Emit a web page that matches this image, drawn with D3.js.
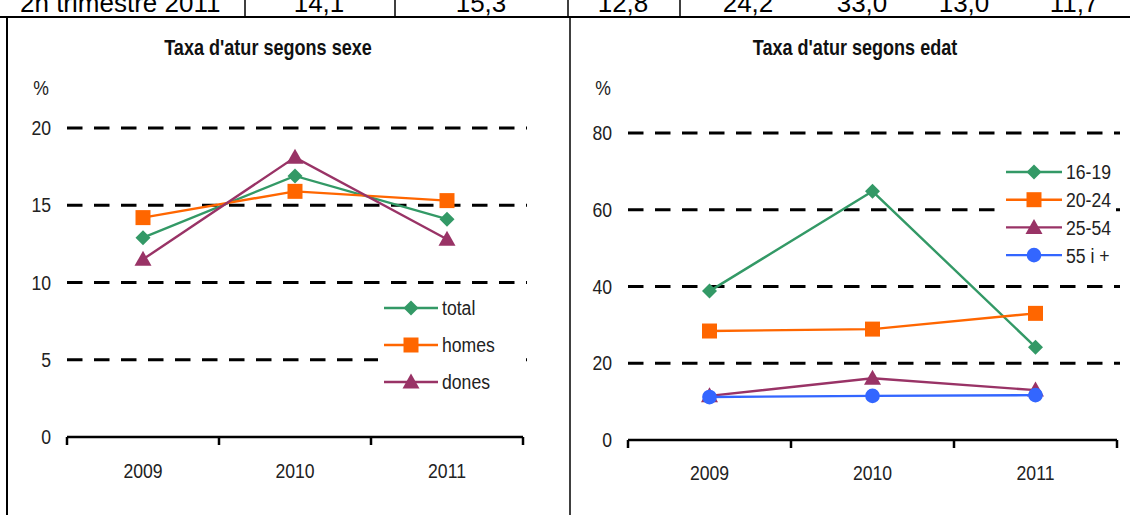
<!DOCTYPE html>
<html><head><meta charset="utf-8">
<script src="https://cdn.jsdelivr.net/npm/d3@7"></script>
<style>
html,body{margin:0;padding:0;background:#fff;}
svg{display:block;font-family:"Liberation Sans",Arial,sans-serif;}
</style></head>
<body><svg id="c" width="1130" height="515"></svg>
<script>
const years = ["2009","2010","2011"];
const sexSeries = ["total","homes","dones"];
const total = [12.9, 16.9, 14.1];
const homes = [14.2, 15.9, 15.3];
const dones = [11.5, 18.1, 12.8];
const ageSeries = ["16-19","20-24","25-54","55 i +"];
const age1619 = [38.8, 64.8, 24.2];
const age2024 = [28.4, 28.9, 33.0];
const age2554 = [11.5, 16.1, 13.0];
const age55 = [11.2, 11.5, 11.7];
const sexTicks = [0,5,10,15,20];
const ageTicks = [0,20,40,60,80];
const rowLabel = "2n trimestre 2011";

const colors = {green:"#339966", orange:"#FF6600", purple:"#993366", blue:"#3366FF"};
const NARROW = 0.84;
const FS = 21;
const svg = d3.select("#c");

// condense text horizontally around its own anchor point
function narrow(sel, s){
  sel.each(function(){
    const t = d3.select(this);
    const x = +(t.attr("x")||0), y = +(t.attr("y")||0);
    t.attr("transform", `translate(${x},${y}) scale(${s||NARROW},1) translate(${-x},${-y})`);
  });
}

// table fragment at top
const fmt = v => v.toFixed(1).replace(".", ",");
const rowVals = [total[2], homes[2], dones[2], age1619[2], age2024[2], age2554[2], age55[2]];
const rowX = [319, 481, 623, 748, 862, 964, 1074];
const tg = svg.append("g");
tg.append("text").attr("x", 20).attr("y", 12).attr("font-size", 26).attr("fill","#000").text(rowLabel);
rowVals.forEach((v,i)=>tg.append("text").attr("x", rowX[i]).attr("y", 12).attr("text-anchor","middle")
  .attr("font-size", 26).attr("fill","#000").text(fmt(v)));
[245, 395, 568, 680].forEach(x=>tg.append("line").attr("x1",x).attr("x2",x).attr("y1",0).attr("y2",17).attr("stroke","#000").attr("stroke-width",1.5));
tg.append("line").attr("x1",0).attr("x2",1130).attr("y1",17).attr("y2",17).attr("stroke","#000").attr("stroke-width",2);
tg.append("line").attr("x1",7).attr("x2",7).attr("y1",17).attr("y2",515).attr("stroke","#000").attr("stroke-width",2);
tg.append("line").attr("x1",570).attr("x2",570).attr("y1",17).attr("y2",515).attr("stroke","#000").attr("stroke-width",1.5);

const shapes = {
  diamond: "M0,-7.5L7.5,0L0,7.5L-7.5,0Z",
  square: "M-7.5,-7.5H7.5V7.5H-7.5Z",
  triangle: "M0,-8.5L8.5,6.5H-8.5Z",
  circle: d3.symbol().type(d3.symbolCircle).size(170)()
};

function chart(cfg){
  const g = svg.append("g");
  const x = d3.scaleBand().domain(years).range([cfg.x0, cfg.x1]).padding(0);
  const y = d3.scaleLinear().domain(cfg.domain).range([cfg.yb, cfg.yt]);
  g.append("text").attr("x", cfg.titleX).attr("y", 55).attr("text-anchor","middle")
    .attr("font-weight","bold").attr("font-size", 21.5).attr("fill","#111").text(cfg.title).call(narrow);
  g.append("text").attr("x", cfg.pctX).attr("y", 95).attr("text-anchor","middle").attr("font-size", FS).attr("fill","#222").text("%").call(narrow);
  // gridlines
  g.selectAll("line.grid").data(cfg.ticks.filter(t=>t>0)).enter().append("line")
    .attr("x1", cfg.x0).attr("x2", cfg.gridEnd).attr("y1", d=>y(d)).attr("y2", d=>y(d))
    .attr("stroke","#000").attr("stroke-width",3).attr("stroke-dasharray","15.5,11.5");
  // y labels
  const ya = d3.axisLeft(y).tickValues(cfg.ticks).tickSize(0).tickPadding(0);
  const yg = g.append("g").attr("transform",`translate(${cfg.x0-16},0)`).call(ya);
  yg.select(".domain").remove();
  yg.selectAll("text").attr("font-size",FS).attr("fill","#222").attr("font-family",null).call(narrow);
  // x axis
  const xa = d3.axisBottom(x).tickSize(0).tickPadding(0);
  const xg = g.append("g").attr("transform",`translate(0,${cfg.yb})`).call(xa);
  xg.select(".domain").attr("stroke","#000").attr("stroke-width",2.5).attr("d",`M${cfg.x0},0H${cfg.x1}`);
  xg.selectAll("text").attr("font-size",FS).attr("fill","#222").attr("font-family",null).attr("dy",null).attr("y",cfg.labelDy).call(narrow);
  const edges = years.map(d=>x(d)).concat([cfg.x1]);
  xg.selectAll("line.edge").data(edges).enter().append("line").attr("class","edge")
    .attr("x1",d=>d).attr("x2",d=>d).attr("y1",0).attr("y2",8).attr("stroke","#000").attr("stroke-width",2.5);
  // legend background
  const lg = cfg.legend;
  g.append("rect").attr("x",lg.x).attr("y",lg.y).attr("width",lg.w).attr("height",lg.h).attr("fill","#fff");
  // series
  cfg.series.forEach((s,i)=>{
    const line = d3.line().x((d,j)=>x(years[j])+x.bandwidth()/2).y(d=>y(d));
    g.append("path").attr("d", line(s.values)).attr("fill","none").attr("stroke",s.color).attr("stroke-width",2.4);
    g.selectAll(null).data(s.values).enter().append("path")
      .attr("transform",(d,j)=>`translate(${x(years[j])+x.bandwidth()/2},${y(d)})`)
      .attr("d", shapes[s.shape]).attr("fill", s.color);
    // legend item
    const ly = lg.y0 + i*lg.step;
    g.append("line").attr("x1",lg.lx0).attr("x2",lg.lx1).attr("y1",ly).attr("y2",ly).attr("stroke",s.color).attr("stroke-width",2.4);
    g.append("path").attr("transform",`translate(${(lg.lx0+lg.lx1)/2},${ly})`)
      .attr("d", shapes[s.shape]).attr("fill",s.color);
    g.append("text").attr("x",lg.lx1+4).attr("y",ly+7.5).attr("font-size",FS).attr("fill","#222").text(s.name).call(narrow);
  });
}

chart({
  title:"Taxa d'atur segons sexe", titleX:268, pctX:41,
  x0:67, x1:523, gridEnd:527, yb:437, yt:128, domain:[0,20], ticks:sexTicks, labelDy:41,
  legend:{x:378, y:290, w:144, h:110, lx0:384, lx1:438, y0:308, step:37},
  series:[
    {name:sexSeries[0], values:total, color:colors.green, shape:"diamond"},
    {name:sexSeries[1], values:homes, color:colors.orange, shape:"square"},
    {name:sexSeries[2], values:dones, color:colors.purple, shape:"triangle"}
  ]
});
chart({
  title:"Taxa d'atur segons edat", titleX:855, pctX:603,
  x0:628, x1:1117, gridEnd:1120, yb:440, yt:133, domain:[0,80], ticks:ageTicks, labelDy:40,
  legend:{x:1000, y:158, w:116, h:112, lx0:1006, lx1:1062, y0:172, step:27.7},
  series:[
    {name:ageSeries[0], values:age1619, color:colors.green, shape:"diamond"},
    {name:ageSeries[1], values:age2024, color:colors.orange, shape:"square"},
    {name:ageSeries[2], values:age2554, color:colors.purple, shape:"triangle"},
    {name:ageSeries[3], values:age55, color:colors.blue, shape:"circle"}
  ]
});
</script></body></html>
